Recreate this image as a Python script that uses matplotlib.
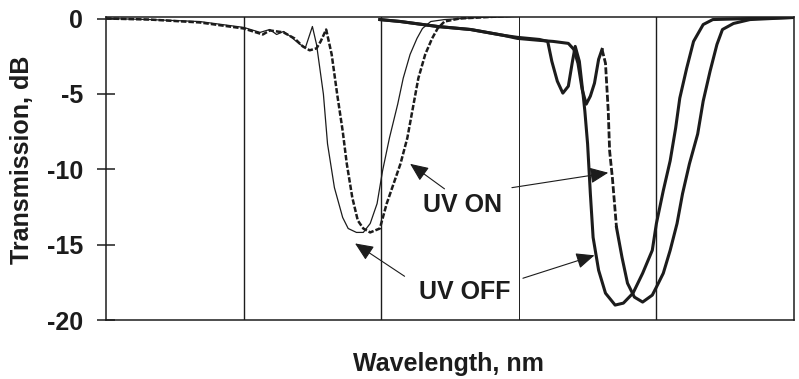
import matplotlib
matplotlib.use("Agg")
import matplotlib.pyplot as plt

plt.rcParams['font.family'] = ['Liberation Sans', 'DejaVu Sans']
plt.rcParams['font.weight'] = 'bold'

# wavelength axis in grid divisions (0..5), transmission in dB
# left grating, UV off (thin solid)
off1_x = [0, 0.32, 0.68, 1.0, 1.12, 1.19, 1.24, 1.29, 1.34, 1.41, 1.45, 1.50, 1.53,
          1.58, 1.61, 1.66, 1.72, 1.76, 1.82, 1.87, 1.92, 1.97, 2.01, 2.06, 2.12,
          2.16, 2.21, 2.26, 2.30, 2.36, 2.46, 2.72, 2.99]
off1_y = [0, -0.07, -0.2, -0.59, -0.92, -0.73, -1.06, -0.86, -1.19, -1.72, -1.91, -0.53,
          -1.72, -5.02, -8.32, -11.22, -13.2, -13.93, -14.19, -14.19, -13.6, -12.28,
          -10.1, -7.92, -5.68, -3.96, -2.38, -1.32, -0.66, -0.2, -0.07, 0.07, 0.13]

# left grating, UV on (dashed)
on1_x = [0, 0.32, 0.68, 1.0, 1.14, 1.19, 1.29, 1.37, 1.43, 1.48, 1.53, 1.56, 1.60,
         1.64, 1.68, 1.72, 1.75, 1.79, 1.83, 1.87, 1.92, 1.99, 2.04, 2.09, 2.14,
         2.19, 2.23, 2.27, 2.32, 2.37, 2.41, 2.46, 2.57, 2.72, 2.99]
on1_y = [0, -0.07, -0.26, -0.66, -1.06, -0.79, -0.92, -1.32, -1.85, -2.11, -1.98, -1.52,
         -0.73, -2.38, -5.02, -7.46, -9.64, -11.88, -13.4, -13.93, -14.19, -13.93,
         -12.28, -10.96, -9.64, -7.92, -5.94, -3.96, -2.38, -1.32, -0.66, -0.2, 0,
         0.07, 0.2]

# right grating, UV off (thick solid)
off2_x = [1.99, 2.14, 2.41, 2.65, 2.89, 2.99, 3.15, 3.21, 3.24, 3.28, 3.32, 3.36, 3.39,
          3.41, 3.44, 3.47, 3.48, 3.50, 3.52, 3.54, 3.58, 3.63, 3.70, 3.76, 3.83, 3.90,
          3.97, 4.00, 4.05, 4.10, 4.14, 4.17, 4.22, 4.27, 4.34, 4.41, 4.68, 5.0]
off2_y = [-0.07, -0.2, -0.53, -0.73, -1.12, -1.25, -1.39, -1.52, -2.84, -4.16, -4.95,
          -4.49, -2.84, -1.85, -2.84, -5.28, -6.14, -8.32, -11.62, -14.52, -16.7,
          -18.22, -19.01, -18.88, -18.22, -16.9, -15.38, -13.6, -11.42, -9.44, -7.26,
          -5.28, -3.3, -1.52, -0.4, -0.07, 0, 0.07]

# right grating, UV on
on2_x = [1.99, 2.14, 2.41, 2.65, 2.89, 2.99, 3.15, 3.25, 3.36, 3.40, 3.43, 3.46, 3.49,
         3.52, 3.55, 3.58, 3.605, 3.63, 3.65, 3.66, 3.68, 3.71, 3.75, 3.79, 3.84, 3.90,
         3.97, 4.00, 4.05, 4.10, 4.15, 4.19, 4.24, 4.30, 4.34, 4.39, 4.44, 4.48, 4.56,
         4.68, 5.0]
on2_y = [-0.07, -0.2, -0.53, -0.73, -1.12, -1.32, -1.45, -1.52, -1.65, -2.05, -2.97,
         -4.69, -5.68, -5.15, -4.29, -2.71, -2.05, -2.97, -6.14, -8.78, -10.56, -13.86,
         -15.84, -17.56, -18.48, -18.81, -18.35, -17.82, -16.9, -15.38, -13.6, -11.62,
         -9.64, -7.66, -5.48, -3.5, -1.72, -0.73, -0.33, -0.07, 0.07]

y_ticks = [0, -5, -10, -15, -20]
y_labels = ['0', '-5', '-10', '-15', '-20']
grid_x = [1, 2, 3, 4]

ink = '#1c1c1c'

fig = plt.figure(figsize=(7.99, 3.79), dpi=100)
ax = fig.add_axes([106 / 799, 1 - 320 / 379, 688 / 799, 303 / 379])

for gx in grid_x:
    ax.axvline(gx, color=ink, lw=0.7 if gx == 3 else 1.0, zorder=1)

ax.plot(off1_x, off1_y, color=ink, lw=0.9, zorder=3)
ax.plot(on1_x, on1_y, color=ink, lw=1.8, linestyle=(0, (2.2, 0.8)), zorder=3)
ax.plot(off2_x, off2_y, color=ink, lw=2.2, zorder=3)
# steep falling edge of the right UV-on trace looks dashed in the scan
ax.plot(on2_x[:17], on2_y[:17], color=ink, lw=2.2, zorder=3)
ax.plot(on2_x[16:22], on2_y[16:22], color=ink, lw=2.0, linestyle=(0, (2.5, 0.8)), zorder=3)
ax.plot(on2_x[21:], on2_y[21:], color=ink, lw=2.2, zorder=3)

ax.set_xlim(0, 5)
ax.set_ylim(-20, 0.1)
ax.set_xticks([])
ax.set_yticks(y_ticks)
ax.set_yticklabels(y_labels, fontsize=18, fontweight='bold')
ax.tick_params(axis='y', direction='inout', length=13, width=1.1, pad=10, colors=ink)
for sp in ax.spines.values():
    sp.set_linewidth(1.1)
    sp.set_color(ink)

arrow_kw = dict(arrowstyle='-|>,head_length=0.8,head_width=0.35', color=ink,
                lw=0.8, mutation_scale=14, shrinkA=0, shrinkB=0)
ax.annotate('', xy=(2.21, -9.64), xytext=(2.46, -11.3), arrowprops=arrow_kw)
ax.annotate('', xy=(3.65, -10.23), xytext=(2.95, -11.22), arrowprops=arrow_kw)
ax.annotate('', xy=(1.81, -14.92), xytext=(2.17, -17.1), arrowprops=arrow_kw)
ax.annotate('', xy=(3.55, -15.71), xytext=(3.03, -17.23), arrowprops=arrow_kw)

ax.text(2.59, -12.34, 'UV ON', fontsize=18, fontweight='bold', color=ink,
        ha='center', va='center')
ax.text(2.61, -18.15, 'UV OFF', fontsize=18, fontweight='bold', color=ink,
        ha='center', va='center')

fig.text(448 / 799, 1 - 364 / 379, 'Wavelength, nm', fontsize=18, fontweight='bold',
         color=ink, ha='center', va='center')
fig.text(22 / 799, 1 - 160 / 379, 'Transmission, dB', fontsize=18, fontweight='bold',
         color=ink, ha='center', va='center', rotation=90)

fig.savefig('out.png', dpi=100)
